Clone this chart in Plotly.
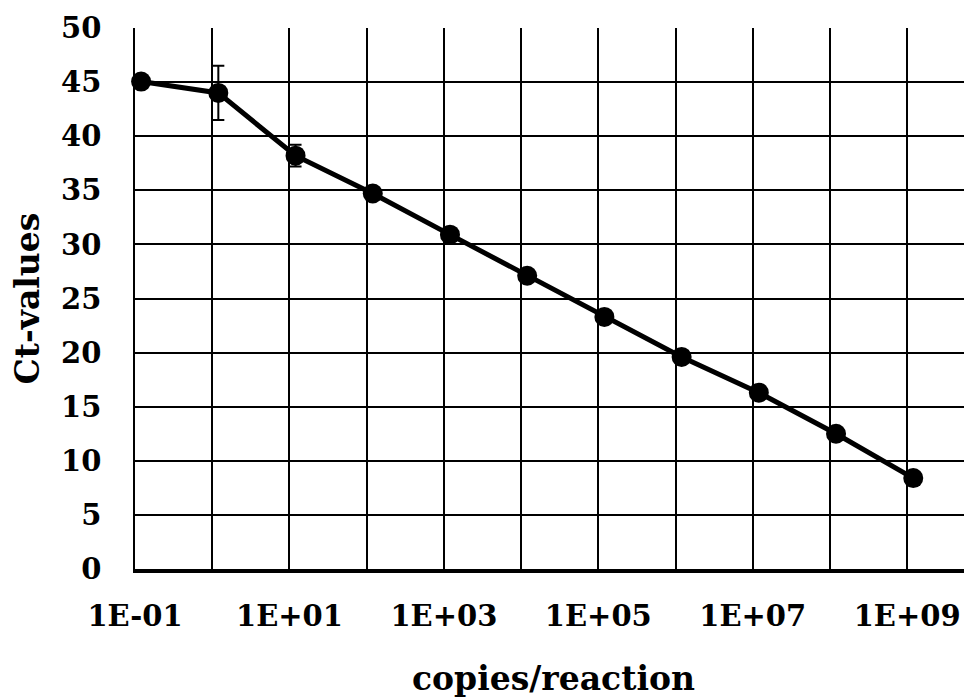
import plotly.graph_objects as go

copies = [1.2e-1, 1.2e0, 1.2e1, 1.2e2, 1.2e3, 1.2e4, 1.2e5, 1.2e6, 1.2e7, 1.2e8, 1.2e9]
ct_values = [45.05, 44.0, 38.2, 34.7, 30.9, 27.1, 23.3, 19.6, 16.3, 12.5, 8.4]
ct_error = [0, 2.5, 1.0, 0, 0, 0, 0, 0, 0, 0, 0]

x_tickvals = [1e-1, 1e0, 1e1, 1e2, 1e3, 1e4, 1e5, 1e6, 1e7, 1e8, 1e9]
x_ticktext = ["1E-01", "", "1E+01", "", "1E+03", "", "1E+05", "", "1E+07", "", "1E+09"]
y_tickvals = [0, 5, 10, 15, 20, 25, 30, 35, 40, 45, 50]

FONT = "DejaVu Serif"

fig = go.Figure()
fig.add_trace(go.Scatter(
    x=copies, y=ct_values, mode="lines+markers",
    line=dict(color="black", width=5),
    marker=dict(color="black", size=20),
    error_y=dict(type="data", array=ct_error, visible=True, color="black",
                 thickness=2, width=6),
    cliponaxis=False, showlegend=False,
))

fig.update_layout(
    width=964, height=692,
    margin=dict(l=127, r=0, t=20, b=131),
    paper_bgcolor="white", plot_bgcolor="white",
    font=dict(family=FONT, color="black"),
    xaxis=dict(
        type="log", range=[-1, 9.84],
        tickvals=x_tickvals, ticktext=x_ticktext,
        showgrid=True, gridcolor="black", gridwidth=1.5,
        showline=True, linecolor="black", linewidth=3.5,
        ticks="", ticklabelstandoff=18,
        tickfont=dict(family=FONT, size=29, weight="bold"),
        title=dict(text="<b>copies/reaction</b>", font=dict(family=FONT, size=33), standoff=36),
        zeroline=False,
    ),
    yaxis=dict(
        range=[0, 50], tickvals=y_tickvals,
        showgrid=True, gridcolor="black", gridwidth=1.5,
        showline=True, linecolor="black", linewidth=1.5,
        ticks="", ticklabelstandoff=26,
        tickfont=dict(family=FONT, size=29, weight="bold"),
        title=dict(text="<b>Ct-values</b>", font=dict(family=FONT, size=33), standoff=16),
        zeroline=False,
    ),
)

fig.write_html("out.html")
